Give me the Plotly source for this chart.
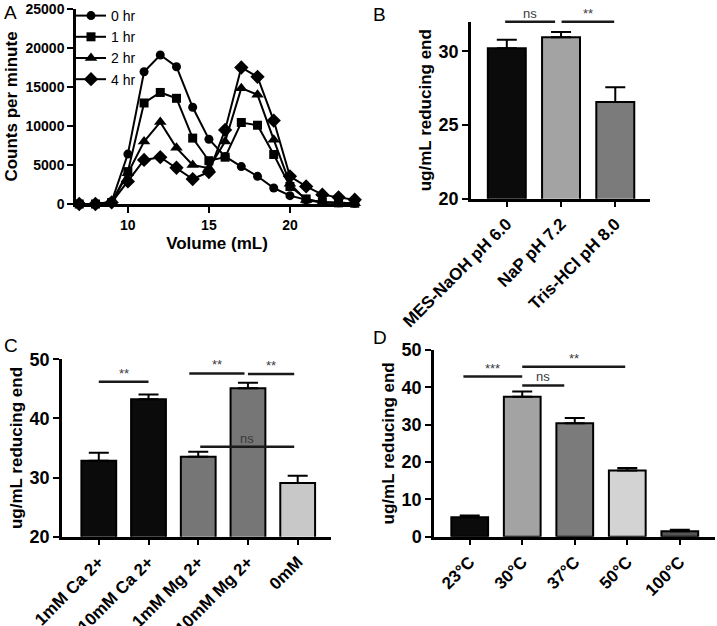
import plotly.graph_objects as go

# ---------------- data ----------------
volume = [7, 8, 9, 10, 11, 12, 13, 14, 15, 16, 17, 18, 19, 20, 21, 22, 23, 24]
cpm_0hr = [0, 0, 300, 6400, 16950, 19100, 17600, 12400, 8300, 6100, 4800, 3550, 2050, 1070, 550, 250, 150, 100]
cpm_1hr = [0, 0, 200, 4150, 12950, 14300, 13550, 8450, 5550, 6000, 10450, 10100, 6350, 2250, 650, 200, 150, 100]
cpm_2hr = [0, 0, 200, 3950, 8000, 10500, 7200, 5000, 4600, 8000, 14850, 14000, 8250, 2600, 500, 200, 150, 100]
cpm_4hr = [0, 0, 200, 2900, 5650, 6000, 4650, 3200, 4100, 9500, 17500, 16300, 10700, 3550, 2250, 1200, 850, 550]

buffers = ["MES-NaOH pH 6.0", "NaP pH 7.2", "Tris-HCl pH 8.0"]
buffer_vals = [30.2, 30.95, 26.55]
buffer_err = [0.57, 0.35, 1.0]

ions = ["1mM Ca 2+", "10mM Ca 2+", "1mM Mg 2+", "10mM Mg 2+", "0mM"]
ion_vals = [32.85, 43.25, 33.5, 45.1, 29.1]
ion_err = [1.35, 0.8, 0.85, 0.95, 1.2]

temps = ["23°C", "30°C", "37°C", "50°C", "100°C"]
temp_vals = [5.2, 37.5, 30.4, 17.7, 1.45]
temp_err = [0.45, 1.4, 1.4, 0.7, 0.4]

W, H = 717, 626
FONT = "Liberation Sans, Arial, sans-serif"

fig = go.Figure()

# ---------------- panel A ----------------
series = [("0 hr", cpm_0hr, "circle", 9), ("1 hr", cpm_1hr, "square", 9),
          ("2 hr", cpm_2hr, "triangle-up", 11), ("4 hr", cpm_4hr, "diamond", 11)]
for name, ys, sym, sz in series:
    fig.add_trace(go.Scatter(x=volume, y=ys, name=name, mode="lines+markers",
                             line=dict(color="black", width=2),
                             marker=dict(symbol=sym, size=sz, color="black"),
                             cliponaxis=False, xaxis="x", yaxis="y"))

# ---------------- bar panels ----------------
def bars(cats, vals, errs, colors, xa, ya):
    fig.add_trace(go.Bar(x=cats, y=vals, width=0.7, xaxis=xa, yaxis=ya, showlegend=False,
                         marker=dict(color=colors, line=dict(color="black", width=2)),
                         error_y=dict(type="data", array=errs, arrayminus=[0] * len(errs),
                                      symmetric=False, color="black", thickness=2, width=10)))

bars(buffers, buffer_vals, buffer_err, ["#0b0b0b", "#a3a3a3", "#7b7b7b"], "x2", "y2")
bars(ions, ion_vals, ion_err, ["#0b0b0b", "#0b0b0b", "#767676", "#767676", "#c8c8c8"], "x3", "y3")
bars(temps, temp_vals, temp_err, ["#0b0b0b", "#a3a3a3", "#7b7b7b", "#d3d3d3", "#555555"], "x4", "y4")

def px_dom(x0, x1, y0, y1):
    return [x0 / W, x1 / W], [1 - y1 / H, 1 - y0 / H]

axcommon = dict(showline=True, linecolor="black", linewidth=2.5, ticks="outside",
                ticklen=6, tickwidth=2, tickcolor="black", showgrid=False, zeroline=False,
                automargin=False,
                tickfont=dict(family=FONT, size=14, color="black", weight="bold"))

xa, ya = px_dom(76, 358, 9, 204)
fig.update_layout(
    xaxis=dict(domain=xa, anchor="y", range=[6.8, 24.2], tickvals=[10, 15, 20],
               title=dict(text="Volume (mL)", font=dict(family=FONT, size=17, color="black", weight="bold"), standoff=6),
               **axcommon),
    yaxis=dict(domain=ya, anchor="x", range=[0, 25000], tickvals=[0, 5000, 10000, 15000, 20000, 25000],
               tickformat="d",
               title=dict(text="Counts per minute", font=dict(family=FONT, size=17, color="black", weight="bold"), standoff=4),
               **axcommon),
)

cat_tick = dict(family=FONT, size=17, color="black", weight="bold")
big_tick = dict(family=FONT, size=18, color="black", weight="bold")
ytitle = dict(text="ug/mL reducing end", font=dict(family=FONT, size=17, color="black", weight="bold"), standoff=3)

def ax(**kw):
    d = dict(axcommon)
    d.update(kw)
    return d

B_RANGE = [20, 32]
xb, yb = px_dom(471, 650, 21.7, 198.7)
fig.update_layout(
    xaxis2=ax(domain=xb, anchor="y2", type="category", range=[-0.66, 2.64], tickangle=-45, tickfont=cat_tick),
    yaxis2=ax(domain=yb, anchor="x2", range=B_RANGE, tickvals=[20, 25, 30], tickfont=big_tick, title=ytitle),
)
C_RANGE = [20, 50]
xc, yc = px_dom(62, 331, 359.3, 536.7)
fig.update_layout(
    xaxis3=ax(domain=xc, anchor="y3", type="category", range=[-0.74, 4.67], tickangle=-45, tickfont=cat_tick),
    yaxis3=ax(domain=yc, anchor="x3", range=C_RANGE, tickvals=[20, 30, 40, 50], tickfont=big_tick, title=ytitle),
)
D_RANGE = [0, 50]
xd, yd = px_dom(434, 715, 350, 536.7)
fig.update_layout(
    xaxis4=ax(domain=xd, anchor="y4", type="category", range=[-0.68, 4.67], tickangle=-45, tickfont=cat_tick),
    yaxis4=ax(domain=yd, anchor="x4", range=D_RANGE, tickvals=[0, 10, 20, 30, 40, 50], tickfont=big_tick, title=ytitle),
)

# ---------------- significance brackets ----------------
sig = [  # (xaxis, yaxis, range, x0, x1, yval, label)
    ("x2", "y2", B_RANGE, -0.03, 0.89, 32.0, "ns"),
    ("x2", "y2", B_RANGE, 1.01, 1.98, 32.0, "**"),
    ("x3", "y3", C_RANGE, 0.0, 1.0, 46.2, "**"),
    ("x3", "y3", C_RANGE, 1.82, 2.93, 47.6, "**"),
    ("x3", "y3", C_RANGE, 3.0, 3.93, 47.5, "**"),
    ("x3", "y3", C_RANGE, 2.04, 3.93, 35.2, "ns"),
    ("x4", "y4", D_RANGE, -0.12, 1.0, 42.9, "***"),
    ("x4", "y4", D_RANGE, 1.0, 1.8, 40.5, "ns"),
    ("x4", "y4", D_RANGE, 1.0, 2.96, 45.5, "**"),
]
for xr, yr, rng, x0, x1, yv, lab in sig:
    frac = (yv - rng[0]) / (rng[1] - rng[0])
    fig.add_shape(type="line", xref=xr, yref=yr + " domain", x0=x0, x1=x1, y0=frac, y1=frac,
                  line=dict(color="#1a1a1a", width=2.5))
    fig.add_annotation(xref=xr, yref=yr + " domain", x=(x0 + x1) / 2, y=frac, text=lab,
                       showarrow=False, yanchor="bottom", yshift=-1,
                       font=dict(family=FONT, size=13, color="#3a3a3a"))

# ---------------- panel letters ----------------
for lab, px, py in [("A", 2, 0), ("B", 371, 2), ("C", 2, 333), ("D", 371, 325)]:
    fig.add_annotation(xref="paper", yref="paper", x=px / W, y=1 - py / H, text=lab,
                       showarrow=False, xanchor="left", yanchor="top",
                       font=dict(family=FONT, size=19, color="black"))

fig.update_layout(
    width=W, height=H, margin=dict(l=0, r=0, t=0, b=0, autoexpand=False),
    paper_bgcolor="white", plot_bgcolor="white",
    showlegend=True,
    legend=dict(x=71 / W, y=1 - 0 / H, xanchor="left", yanchor="top", bgcolor="rgba(0,0,0,0)",
                font=dict(family=FONT, size=14, color="black"), itemwidth=30, tracegroupgap=0),
    font=dict(family=FONT),
)

fig.write_html("out.html", config={"displayModeBar": False},
               post_script="document.body.style.margin='0';")
